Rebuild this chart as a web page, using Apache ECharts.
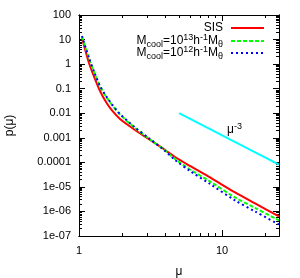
<!DOCTYPE html>
<html><head><meta charset="utf-8">
<script src="https://cdn.jsdelivr.net/npm/echarts@6/dist/echarts.min.js"></script>
<style>html,body{margin:0;padding:0;background:#fff}#c{width:300px;height:278px}</style>
</head><body><div id="c"></div>
<script>
// data
const mu    = [1.0495, 1.1747, 1.2937, 1.4025, 1.5446, 1.7011, 1.9348, 2.4642, 3.1372, 3.9946, 4.692, 5.9739, 8.2443, 12.328, 17.013, 25];
const pSIS  = [11.57, 1.111, 0.2478, 0.08043, 0.02869, 0.01293, 0.005826, 0.002078, 8.135e-4, 3.186e-4, 1.653e-4, 7.109e-5, 2.419e-5, 5.93e-6, 2.113e-6, 6.25e-7];
const pM13  = [13.32, 1.693, 0.378, 0.1227, 0.04803, 0.02165, 0.008886, 0.002506, 8.525e-4, 3.04e-4, 1.37e-4, 5.12e-5, 1.662e-5, 3.708e-6, 1.386e-6, 4.293e-7];
const pM12  = [13.96, 1.775, 0.396, 0.1286, 0.05035, 0.02269, 0.009314, 0.002627, 8.937e-4, 2.901e-4, 1.248e-4, 4.447e-5, 1.315e-5, 2.799e-6, 9.98e-7, 2.951e-7];
const muRef = [5, 25];
const pRef  = [0.01, 8e-5];
const legendLabels = {
  'SIS': 'SIS',
  'M13': '{m|M}{sub|cool}{m|=10}{sup|13}{m|h}{sup|-1}{m|M}{sub|\u03b8}',
  'M12': '{m|M}{sub|cool}{m|=10}{sup|12}{m|h}{sup|-1}{m|M}{sub|\u03b8}'
};
const xMajor = [1, 10];
const yMajor = [100, 10, 1, 0.1, 0.01, 0.001, 0.0001, 1e-5, 1e-6, 1e-7];
const yLabels = ['100', '10', '1', '0.1', '0.01', '0.001', '0.0001', '1e-05', '1e-06', '1e-07'];
const xMinor = [2, 3, 4, 5, 6, 7, 8, 9, 20];
const yMinor = [];
for (let e = -7; e < 2; e++) for (let k = 2; k <= 9; k++) yMinor.push(k * Math.pow(10, e));

const zip = (a, b) => a.map((v, i) => [v, b[i]]);
const FONT = 'Liberation Sans';
const rich = {
  m: {fontSize: 12, fontFamily: FONT, color: '#000'},
  sub: {fontSize: 9, fontFamily: FONT, color: '#000', padding: [7, 0, 0, 0]},
  sup: {fontSize: 9, fontFamily: FONT, color: '#000', padding: [0, 0, 7, 0]}
};

function xAxisDef(pos, ticks, len, labels) {
  return {
    type: 'log', logBase: 10, min: 1, max: 25, position: pos,
    axisLine: {show: true, onZero: false, lineStyle: {color: '#000', width: 1}},
    axisTick: {show: true, inside: true, length: len, customValues: ticks, lineStyle: {color: '#000'}},
    axisLabel: labels ? {show: true, customValues: xMajor, margin: 9, color: '#000', fontSize: 11, fontFamily: FONT, formatter: v => String(v)} : {show: false},
    splitLine: {show: false}, minorTick: {show: false},
    name: labels ? '\u03bc' : '', nameLocation: 'middle', nameGap: 30,
    nameTextStyle: {color: '#000', fontSize: 12, fontFamily: FONT}
  };
}
function yAxisDef(pos, ticks, len, labels) {
  return {
    type: 'log', logBase: 10, min: 1e-7, max: 100, position: pos,
    axisLine: {show: true, onZero: false, lineStyle: {color: '#000', width: 1}},
    axisTick: {show: true, inside: true, length: len, customValues: ticks, lineStyle: {color: '#000'}},
    axisLabel: labels ? {show: true, customValues: yMajor, margin: 8, color: '#000', fontSize: 11, fontFamily: FONT,
      formatter: v => { const i = yMajor.findIndex(t => Math.abs(Math.log10(t) - Math.log10(v)) < 1e-6); return i >= 0 ? yLabels[i] : ''; }} : {show: false},
    splitLine: {show: false}, minorTick: {show: false},
    name: labels ? 'p(\u03bc)' : '', nameLocation: 'middle', nameGap: 63, nameRotate: 90,
    nameTextStyle: {color: '#000', fontSize: 12, fontFamily: FONT}
  };
}

function legendDef(name, top) {
  return {
    data: [{name: name}], right: 35, top: top, align: 'right', orient: 'vertical',
    itemWidth: 33, itemHeight: 10, itemGap: 0, padding: 0, selectedMode: false,
    itemStyle: {opacity: 0, color: 'transparent', borderWidth: 0},
    formatter: n => legendLabels[n],
    textStyle: {color: '#000', fontSize: 12, fontFamily: FONT, rich: rich, padding: [0, 3, 0, 0]}
  };
}

const chart = echarts.init(document.getElementById('c'), null, {renderer: 'canvas'});
chart.setOption({
  animation: false,
  backgroundColor: '#fff',
  grid: {left: 79, right: 21, top: 15, bottom: 42, containLabel: false, outerBoundsMode: 'none'},
  xAxis: [
    xAxisDef('bottom', xMajor, 6, true),
    xAxisDef('bottom', xMinor, 3, false),
    xAxisDef('top', xMajor, 6, false),
    xAxisDef('top', xMinor, 3, false)
  ],
  yAxis: [
    yAxisDef('left', yMajor, 6, true),
    yAxisDef('left', yMinor, 3, false),
    yAxisDef('right', yMajor, 6, false),
    yAxisDef('right', yMinor, 3, false)
  ],
  legend: [legendDef('SIS', 22), legendDef('M13', 33), legendDef('M12', 45)],
  graphic: [{
    type: 'text', left: 227, top: 122,
    style: {text: '{m|\u03bc}{sup|-3}', rich: rich}
  }],
  series: [
    {name: 'SIS', type: 'line', data: zip(mu, pSIS), smooth: 0.3, showSymbol: false, symbol: 'none',
     lineStyle: {color: '#ff0000', width: 2}, itemStyle: {color: '#ff0000'}, z: 3},
    {name: 'M13', type: 'line', data: zip(mu, pM13), smooth: 0.3, showSymbol: false, symbol: 'none',
     lineStyle: {color: '#00ff00', width: 2, type: [4, 2]}, itemStyle: {color: '#00ff00'}, z: 4},
    {name: 'M12', type: 'line', data: zip(mu, pM12), smooth: 0.3, showSymbol: false, symbol: 'none',
     lineStyle: {color: '#0000ff', width: 2, type: [2, 3]}, itemStyle: {color: '#0000ff'}, z: 5},
    {name: 'ref', type: 'line', data: zip(muRef, pRef), showSymbol: false, symbol: 'none',
     lineStyle: {color: '#00ffff', width: 2}, itemStyle: {color: '#00ffff'}, z: 2}
  ]
});
</script></body></html>
